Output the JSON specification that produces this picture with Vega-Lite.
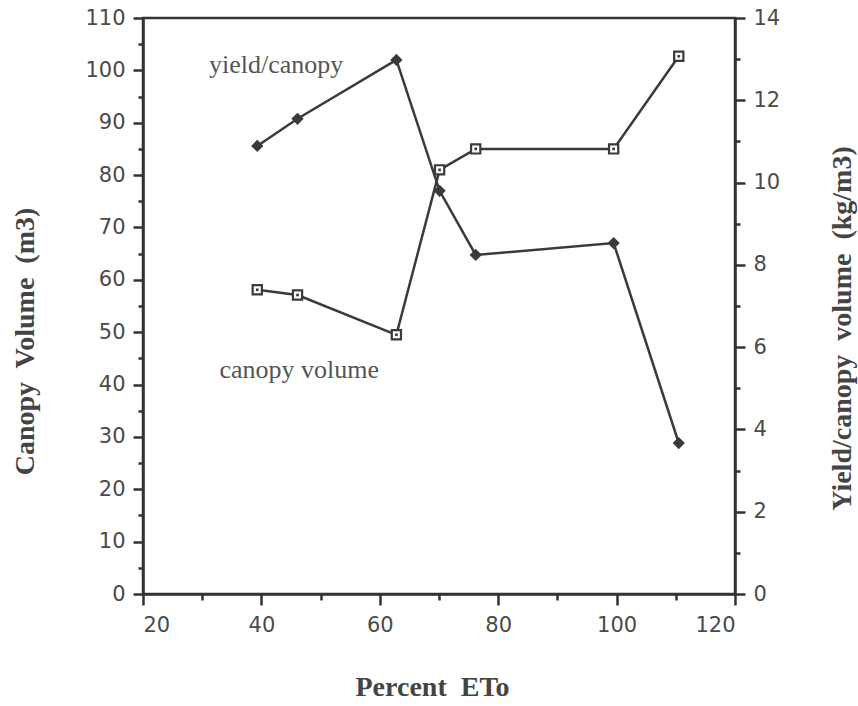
{
  "$schema": "https://vega.github.io/schema/vega-lite/v6.json",
  "width": 592,
  "height": 576,
  "autosize": "none",
  "padding": {"left": 143, "top": 18, "right": 123, "bottom": 112},
  "background": "white",
  "config": {
    "view": {"stroke": "#333333", "strokeWidth": 2.5},
    "axis": {
      "grid": false,
      "domainColor": "#333333",
      "domainWidth": 2.5,
      "tickColor": "#333333",
      "tickWidth": 2.5,
      "labelFont": "DejaVu Sans",
      "labelFontSize": 21,
      "labelColor": "#4a4a4a",
      "labelPadding": 8,
      "titleFont": "Liberation Serif",
      "titleFontWeight": "bold",
      "titleFontSize": 28,
      "titleColor": "#444444"
    }
  },
  "datasets": {
    "series": [
      {"eto": 39.3, "canopy": 58.1, "ratio": 10.89},
      {"eto": 46.1, "canopy": 57.1, "ratio": 11.55},
      {"eto": 62.8, "canopy": 49.5, "ratio": 12.98},
      {"eto": 70.1, "canopy": 81.0, "ratio": 9.8},
      {"eto": 76.2, "canopy": 85.0, "ratio": 8.24},
      {"eto": 99.5, "canopy": 85.0, "ratio": 8.53},
      {"eto": 110.5, "canopy": 102.7, "ratio": 3.67}
    ],
    "notes": [
      {"eto": 42.5, "canopy": 99.5, "label": "yield/canopy"},
      {"eto": 46.4, "canopy": 41.3, "label": "canopy volume"}
    ]
  },
  "encoding": {
    "x": {
      "field": "eto",
      "type": "quantitative",
      "scale": {"domain": [20, 120], "nice": false, "zero": false},
      "axis": {
        "values": [20, 30, 40, 50, 60, 70, 80, 90, 100, 110, 120],
        "labelExpr": "datum.value % 20 == 0 ? datum.label : ''",
        "tickSize": {"condition": {"test": "datum.value % 20 == 0", "value": 11}, "value": 6},
        "labelPadding": 9,
        "title": "Percent\u00a0 ETo",
        "titleX": 289,
        "titleY": 93,
        "titleBaseline": "middle",
        "titleAlign": "center"
      }
    }
  },
  "layer": [
    {
      "encoding": {
        "y": {
          "field": "canopy",
          "type": "quantitative",
          "scale": {"domain": [0, 110], "nice": false},
          "axis": {
            "orient": "left",
            "values": [0, 5, 10, 15, 20, 25, 30, 35, 40, 45, 50, 55, 60, 65, 70, 75, 80, 85, 90, 95, 100, 105, 110],
            "labelExpr": "datum.value % 10 == 0 ? datum.label : ''",
            "tickSize": {"condition": {"test": "datum.value % 10 == 0", "value": 10}, "value": 5},
            "title": "Canopy\u00a0 Volume\u00a0 (m3)",
            "titleAngle": 270,
            "titleX": -118,
            "titleY": 323,
            "titleBaseline": "middle",
            "titleAlign": "center"
          }
        }
      },
      "layer": [
        {
          "data": {"name": "series"},
          "mark": {"type": "line", "color": "#3a3a3a", "strokeWidth": 2.5}
        },
        {
          "data": {"name": "series"},
          "mark": {"type": "point", "shape": "square", "size": 85, "filled": true, "fill": "white", "stroke": "#3a3a3a", "strokeWidth": 2.2, "opacity": 1}
        },
        {
          "data": {"name": "series"},
          "mark": {"type": "point", "shape": "square", "size": 7, "filled": true, "color": "#3a3a3a", "opacity": 1}
        },
        {
          "data": {"name": "notes"},
          "mark": {"type": "text", "font": "Liberation Serif", "fontSize": 26, "color": "#555555", "align": "center", "baseline": "alphabetic"},
          "encoding": {"text": {"field": "label"}}
        }
      ]
    },
    {
      "data": {"name": "series"},
      "encoding": {
        "y": {
          "field": "ratio",
          "type": "quantitative",
          "scale": {"domain": [0, 14], "nice": false},
          "axis": {
            "orient": "right",
            "values": [0, 1, 2, 3, 4, 5, 6, 7, 8, 9, 10, 11, 12, 13, 14],
            "labelExpr": "datum.value % 2 == 0 ? datum.label : ''",
            "tickSize": {"condition": {"test": "datum.value % 2 == 0", "value": 10}, "value": 5},
            "title": "Yield/canopy\u00a0 volume\u00a0 (kg/m3)",
            "titleAngle": 270,
            "titleX": 107,
            "titleY": 310,
            "titleBaseline": "middle",
            "titleAlign": "center"
          }
        }
      },
      "layer": [
        {"mark": {"type": "line", "color": "#3a3a3a", "strokeWidth": 2.5}},
        {"mark": {"type": "point", "shape": "diamond", "size": 150, "filled": true, "color": "#3a3a3a", "opacity": 1}}
      ]
    }
  ],
  "resolve": {"scale": {"y": "independent"}, "axis": {"y": "independent"}}
}
